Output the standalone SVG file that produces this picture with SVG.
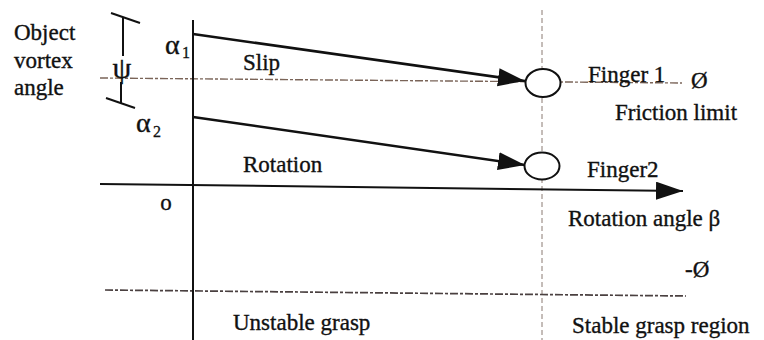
<svg xmlns="http://www.w3.org/2000/svg" width="764" height="340" viewBox="0 0 764 340">
<style>
.t{font-family:"Liberation Serif","Times New Roman",serif;font-size:23px;fill:#111;stroke:#111;stroke-width:0.35}
.g{font-family:"Liberation Serif","Times New Roman",serif;font-size:28px;fill:#111;stroke:#111;stroke-width:0.35}
.s{font-family:"Liberation Serif","Times New Roman",serif;font-size:16px;fill:#111;stroke:#111;stroke-width:0.3}
.ax{stroke:#111;stroke-width:2;fill:none}
.ar{stroke:#111;stroke-width:2.5;fill:none}
.dash{stroke:#7a6458;stroke-width:1.4;stroke-dasharray:8 2 3 2;fill:none}
.vd{stroke:#8a7a72;stroke-width:1;stroke-dasharray:5 3;fill:none}
.fing{fill:#fff;stroke:#111;stroke-width:2}
</style>
<defs>
<marker id="ah" markerUnits="userSpaceOnUse" markerWidth="30" markerHeight="20" refX="27" refY="9" orient="auto">
<path d="M0,0 L27,9 L0,18 Z" fill="#111"/>
</marker>
</defs>
<rect width="764" height="340" fill="#fff"/>
<g id="guides">
<line class="vd" x1="542" y1="10" x2="542" y2="340"/>
<line class="dash" x1="100" y1="78" x2="682" y2="83"/>
<line class="dash" x1="105" y1="290" x2="686" y2="296" style="stroke:#4a4040;stroke-width:1.7"/>
</g>
<g id="connectors">
<line class="ax" x1="193" y1="20" x2="193" y2="340"/>
<line class="ax" x1="100" y1="184" x2="683" y2="191" marker-end="url(#ah)"/>
<line class="ar" x1="193" y1="34" x2="525" y2="81" marker-end="url(#ah)"/>
<line class="ar" x1="193" y1="117" x2="525" y2="165" marker-end="url(#ah)"/>
</g>
<g id="psi-bracket">
<line class="ax" x1="111" y1="13" x2="140" y2="23"/>
<line class="ax" x1="123" y1="18" x2="123" y2="56"/>
<line class="ax" x1="121" y1="82" x2="121" y2="103"/>
<line class="ax" x1="106" y1="98" x2="135" y2="108"/>
<text class="t" x="122" y="78" text-anchor="middle" style="font-size:30px">ψ</text>
</g>
<g id="finger1">
<ellipse class="fing" cx="543" cy="83" rx="17.5" ry="14"/>
<text class="t" x="588" y="82">Finger 1</text>
</g>
<g id="finger2">
<ellipse class="fing" cx="542" cy="166" rx="17.5" ry="13.5"/>
<text class="t" x="587" y="177">Finger2</text>
</g>
<g id="labels">
<text class="t" x="14" y="40">Object</text>
<text class="t" x="14" y="68">vortex</text>
<text class="t" x="14" y="95">angle</text>
<text class="g" x="165" y="54">α</text><text class="s" x="182" y="58">1</text>
<text class="g" x="136" y="132">α</text><text class="s" x="153" y="137">2</text>
<text class="t" x="243" y="70">Slip</text>
<text class="t" x="243" y="172">Rotation</text>
<text class="t" x="166" y="210" text-anchor="middle">o</text>
<text class="t" x="691" y="88">Ø</text>
<text class="t" x="615" y="120">Friction limit</text>
<text class="t" x="568" y="226">Rotation angle β</text>
<text class="t" x="685" y="277">-Ø</text>
<text class="t" x="233" y="330">Unstable grasp</text>
<text class="t" x="572" y="333">Stable grasp region</text>
</g>
</svg>
